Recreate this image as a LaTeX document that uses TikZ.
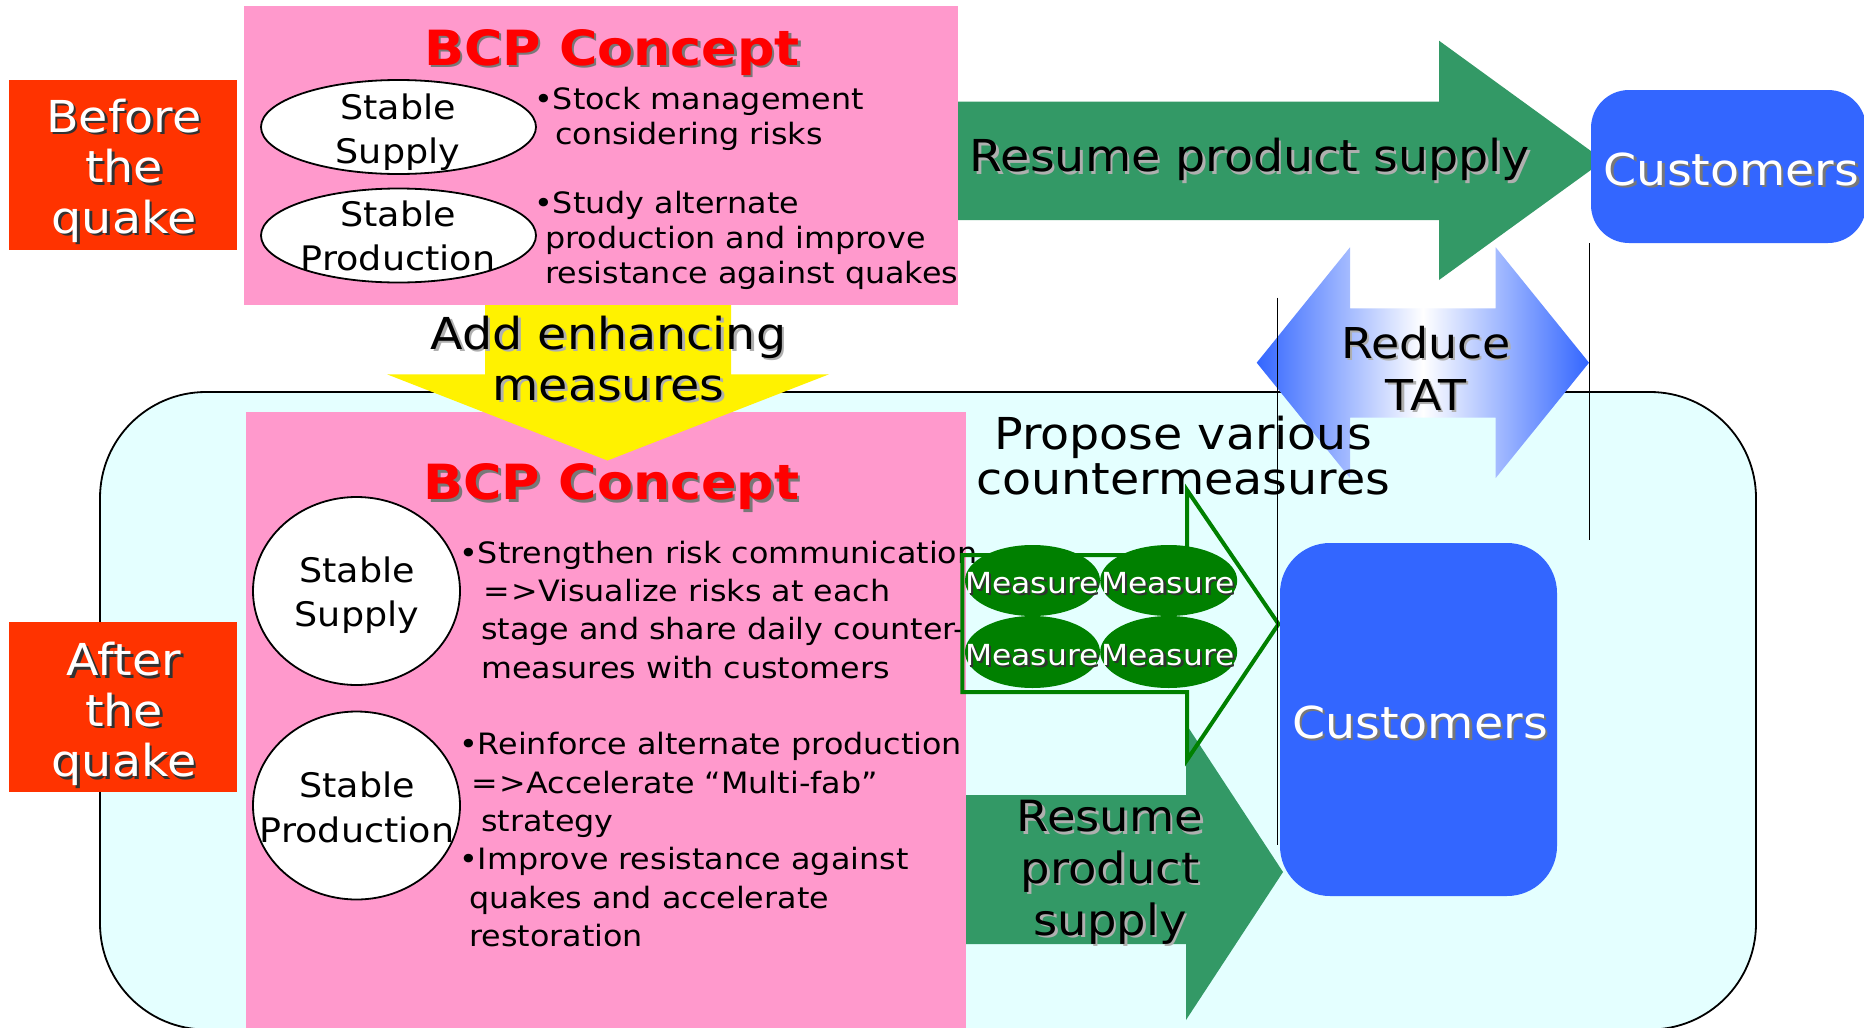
\documentclass[tikz,border=0pt]{standalone}
\usepackage{fontspec}
\setmainfont[FakeStretch=1.08]{DejaVu Sans}
\usetikzlibrary{shapes.geometric}
\definecolor{redbox}{RGB}{255,51,0}
\definecolor{pinkbox}{RGB}{255,153,204}
\definecolor{cyanbg}{RGB}{228,255,255}
\definecolor{arrowgreen}{RGB}{51,153,102}
\definecolor{custblue}{RGB}{51,102,255}
\definecolor{measgreen}{RGB}{0,128,0}
\definecolor{titlered}{RGB}{255,0,0}
\definecolor{shlight}{RGB}{175,175,175}
\definecolor{shmid}{RGB}{120,120,120}
\definecolor{shdark}{RGB}{50,50,50}
\newcommand\shd[2]{\leavevmode\rlap{\kern2.5pt\raisebox{-2.5pt}{\textcolor{#1}{#2}}}#2}
\newcommand\MLc[1]{\vtop{\lineskiplimit=-1000pt\halign{\hfil##\hfil\cr#1\crcr}}}
\newcommand\MLl[1]{\vtop{\lineskiplimit=-1000pt\halign{##\hfil\cr#1\crcr}}}
\newcommand\fsz[2]{\fontsize{#1}{#2}\selectfont}
\begin{document}
\begin{tikzpicture}[x=1pt,y=-1pt,
  txt/.style={inner sep=0pt, anchor=base},
  txtl/.style={inner sep=0pt, anchor=base west},
  rectbox/.style={inner sep=0pt, draw=none, anchor=north west},
  wellipse/.style={ellipse, draw=black, line width=1.8pt, fill=white, inner sep=0pt},
  gellipse/.style={ellipse, fill=measgreen, inner sep=0pt},
  custbox/.style={inner sep=0pt, fill=custblue, draw=none},
  vline/.style={line width=1.3pt, black}]
\useasboundingbox (0,0) rectangle (1864,1028);
\clip (0,0) rectangle (1864,1028);
\fill[white] (0,0) rectangle (1864,1028);
% top green arrow
\fill[arrowgreen] (955,101.5) -- (1439,101.5) -- (1439,40.7) -- (1604,160.5) -- (1439,280) -- (1439,220) -- (955,220) -- cycle;
% big cyan frame
\draw[line width=1.8pt, fill=cyanbg, rounded corners=106pt] (100,392) rectangle (1756,1029.5);
% pink boxes
\node[rectbox, fill=pinkbox, minimum width=714.5, minimum height=299] (pinktop) at (243.5,6) {};
\node[rectbox, fill=pinkbox, minimum width=720, minimum height=640] (pinkbot) at (246,411.7) {};
% yellow arrow
\fill[yellow] (485,305) -- (731,305) -- (731,374.3) -- (829,374.3) -- (607.5,460.5) -- (387,374.3) -- (485,374.3) -- cycle;
% red boxes
\node[rectbox, fill=redbox, minimum width=228, minimum height=170] (beforebox) at (9,80) {};
\node[rectbox, fill=redbox, minimum width=228, minimum height=170] (afterbox) at (9,622) {};
% white ellipses
\node[wellipse, minimum width=275, minimum height=94] (e1) at (398.5,127) {};
\node[wellipse, minimum width=275, minimum height=94] (e2) at (398.5,235.5) {};
\node[wellipse, minimum width=207, minimum height=188] (e3) at (356.5,591) {};
\node[wellipse, minimum width=207, minimum height=188] (e4) at (356.5,805.5) {};
% texts in the left part
\node[txt, white, font=\fsz{44}{50.5}] (beforet) at (124,132) {\MLc{\shd{shdark}{Before}\cr\shd{shdark}{the}\cr\shd{shdark}{quake}}};
\node[txt, white, font=\fsz{44}{50.6}] (aftert) at (124,675.5) {\MLc{\shd{shdark}{After}\cr\shd{shdark}{the}\cr\shd{shdark}{quake}}};
\node[txt, titlered, font=\fsz{48.5}{55}\bfseries] (bcp1) at (612,65) {\shd{shmid}{BCP Concept}};
\node[txt, titlered, font=\fsz{48.5}{55}\bfseries] (bcp2) at (611.5,499.8) {\shd{shmid}{BCP Concept}};
\node[txt, font=\fsz{33.8}{44}] (e1t) at (398,119) {\MLc{Stable\cr Supply}};
\node[txt, font=\fsz{33.8}{43.5}] (e2t) at (398,226.7) {\MLc{Stable\cr Production}};
\node[txt, font=\fsz{33.8}{44.2}] (e3t) at (357,582.5) {\MLc{Stable\cr Supply}};
\node[txt, font=\fsz{33.8}{44.6}] (e4t) at (357,797.4) {\MLc{Stable\cr Production}};
\node[txtl, font=\fsz{29.4}{35}] (b1) at (534,109) {\MLl{•Stock management\cr\hspace*{21pt}considering risks}};
\node[txtl, font=\fsz{29.4}{35}] (b2) at (534,213) {\MLl{•Study alternate\cr\hspace*{11pt}production and improve\cr\hspace*{11pt}resistance against quakes}};
\node[txtl, font=\fsz{29.4}{38.4}] (b3) at (459,563) {\MLl{•Strengthen risk communication\cr\hspace*{24pt}=\kern2pt>Visualize risks at each\cr\hspace*{22pt}stage and share daily counter-\cr\hspace*{22pt}measures with customers}};
\node[txtl, font=\fsz{29.4}{38.3}] (b4) at (459,754.8) {\MLl{•Reinforce alternate production\cr\hspace*{12pt}=\kern2pt>Accelerate “Multi-fab”\cr\hspace*{22pt}strategy\cr•Improve resistance against\cr\hspace*{10pt}quakes and accelerate\cr\hspace*{10pt}restoration}};
\node[txt, font=\fsz{44}{50.7}] (addt) at (608.5,349.3) {\MLc{\shd{shlight}{Add enhancing}\cr\shd{shlight}{measures}}};
\node[txt, font=\fsz{44}{50}] (res1t) at (1250,171.7) {\shd{shlight}{Resume product supply}};
% reduce TAT double arrow
\shade[left color=custblue, right color=custblue, middle color=white]
  (1256.7,362.7) -- (1350,247.3) -- (1350,308.3) -- (1495.7,308.3) -- (1495.7,247.3) -- (1589,362.7)
  -- (1495.7,478) -- (1495.7,417.7) -- (1350,417.7) -- (1350,478) -- cycle;
\node[txt, font=\fsz{42.5}{51.7}] (tatt) at (1426,358.3) {\MLc{\shd{shlight}{Reduce}\cr\shd{shlight}{TAT}}};
\node[txt, font=\fsz{44}{45}] (propt) at (1183,449) {\MLc{Propose various\cr countermeasures}};
% bottom green arrow
\fill[arrowgreen] (966,795) -- (1186,795) -- (1186,724) -- (1283,872) -- (1186,1020) -- (1186,944) -- (966,944) -- cycle;
\node[txt, font=\fsz{43}{51.7}] (res2t) at (1110,831.7) {\MLc{\shd{shlight}{Resume}\cr\shd{shlight}{product}\cr\shd{shlight}{supply}}};
% measures outline arrow
\draw[measgreen, line width=4pt, line join=miter] (962.3,555) -- (1187,555) -- (1187,490) -- (1278.5,624) -- (1187,760) -- (1187,692) -- (962.3,692) -- cycle;
\node[gellipse, minimum width=135, minimum height=71] (m1) at (1032.5,580.5) {};
\node[gellipse, minimum width=137, minimum height=71] (m2) at (1168.7,580.5) {};
\node[gellipse, minimum width=135, minimum height=72] (m3) at (1032.5,652) {};
\node[gellipse, minimum width=137, minimum height=72] (m4) at (1168.7,652) {};
\node[txt, white, font=\fsz{29}{35}] (m1t) at (1032,593.3) {\shd{shdark}{Measure}};
\node[txt, white, font=\fsz{29}{35}] (m2t) at (1168,593.3) {\shd{shdark}{Measure}};
\node[txt, white, font=\fsz{29}{35}] (m3t) at (1032,665) {\shd{shdark}{Measure}};
\node[txt, white, font=\fsz{29}{35}] (m4t) at (1168,665) {\shd{shdark}{Measure}};
% customers boxes
\node[custbox, rounded corners=38pt, minimum width=275, minimum height=153] (custtop) at (1728.5,166.5) {};
\node[custbox, rounded corners=50pt, minimum width=277, minimum height=353] (custbot) at (1418.5,719.5) {};
\node[txt, white, font=\fsz{44}{50}] (custtopt) at (1731.5,185) {\shd{shmid}{Customers}};
\node[txt, white, font=\fsz{44}{50}] (custbott) at (1420,738.4) {\shd{shmid}{Customers}};
% thin vertical lines
\coordinate (v1a) at (1589.5,243);
\coordinate (v1b) at (1589.5,540);
\coordinate (v2a) at (1277.5,297.7);
\coordinate (v2b) at (1277.5,844.5);
\draw[vline] (v1a) -- (v1b);
\draw[vline] (v2a) -- (v2b);
\end{tikzpicture}
\end{document}
